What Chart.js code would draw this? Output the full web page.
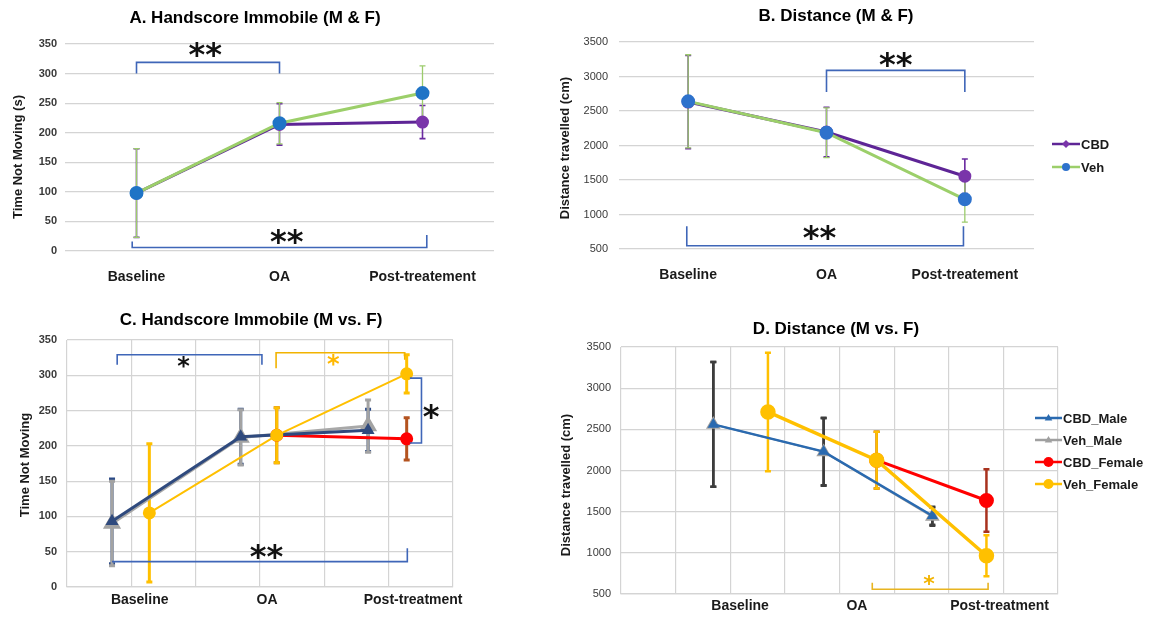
<!DOCTYPE html>
<html>
<head>
<meta charset="utf-8">
<script src="https://cdn.jsdelivr.net/npm/chart.js@4.4.1/dist/chart.umd.min.js"></script>
<style>
  body { margin: 0; background: #fff; width: 1158px; height: 617px; position: relative; overflow: hidden; }
  .panel { position: absolute; }
</style>
</head>
<body>
<div class="panel" style="left:0;top:0;width:510px;height:290px"><canvas id="chartA"></canvas></div>
<div class="panel" style="left:530px;top:0;width:580px;height:290px"><canvas id="chartB"></canvas></div>
<div class="panel" style="left:0;top:300px;width:480px;height:317px"><canvas id="chartC"></canvas></div>
<div class="panel" style="left:530px;top:300px;width:628px;height:317px"><canvas id="chartD"></canvas></div>
<script>
// ---- data ----
var timepointsAB = ['Baseline', 'OA', 'Post-treatement'];
var timepointsCD = ['Baseline', 'OA', 'Post-treatment'];

// A. Handscore immobile (s)
var cbdImmobile = [98, 214, 218];
var cbdImmobileErr = [75, 35, 28];
var vehImmobile = [98, 216, 267];
var vehImmobileErr = [75, 35, 46];

// B. Distance (cm)
var cbdDistance = [2630, 2195, 1555];
var cbdDistanceErr = [675, 360, 250];
var vehDistance = [2640, 2185, 1220];
var vehDistanceErr = [675, 360, 330];

// C. Handscore immobile by sex
var maleXC = [0.7, 2.7, 4.68];
var femaleXC = [1.28, 3.26, 5.28];
var labelXC = [1.13, 3.11, 5.38];
var cbdMaleC = [93, 213, 222];
var cbdMaleCErr = [60, 39, 30];
var vehMaleC = [90, 212, 228];
var vehMaleCErr = [60, 39, 37];
var cbdFemaleC = [null, 215, 210];
var cbdFemaleCErr = [null, 39, 30];
var vehFemaleC = [105, 215, 302];
var vehFemaleCErr = [98, 39, 27];

// D. Distance by sex
var maleXD = [1.69, 3.71, 5.7];
var femaleXD = [2.69, 4.68, 6.69];
var labelXD = [2.18, 4.32, 6.93];
var cbdMaleD = [2560, 2230, 1450];
var cbdMaleDErr = [757, 410, 110];
var vehMaleD = [2560, 2226, 1440];
var vehMaleDErr = [757, 410, 110];
var cbdFemaleD = [null, 2125, 1636];
var cbdFemaleDErr = [null, 345, 380];
var vehFemaleD = [2711, 2125, 965];
var vehFemaleDErr = [720, 345, 250];

var FONT = '"Liberation Sans", Arial, sans-serif';
var STAR_FONT = '"DejaVu Sans", sans-serif';
var GRID = '#d4d4d4';

function pts(xs, ys) {
  return xs.map(function(x, i) { return { x: x, y: ys[i] }; });
}

function drawMarker(ctx, style, x, y, r, color) {
  ctx.fillStyle = color;
  ctx.beginPath();
  if (style === 'triangle') {
    ctx.moveTo(x, y - r);
    ctx.lineTo(x + r * 0.95, y + r * 0.6);
    ctx.lineTo(x - r * 0.95, y + r * 0.6);
    ctx.closePath();
  } else if (style === 'rectRot') {
    ctx.moveTo(x, y - r); ctx.lineTo(x + r, y); ctx.lineTo(x, y + r); ctx.lineTo(x - r, y);
    ctx.closePath();
  } else {
    ctx.arc(x, y, r, 0, Math.PI * 2);
  }
  ctx.fill();
}

// error bars, drawn under the lines in dataset index order (last one on top)
var errorBars = {
  id: 'errorBars',
  beforeDatasetsDraw: function(chart) {
    var ctx = chart.ctx, ys = chart.scales.y;
    chart.data.datasets.forEach(function(ds, i) {
      if (!ds.errors) return;
      var meta = chart.getDatasetMeta(i);
      ctx.save();
      ctx.strokeStyle = ds.errorColor;
      ctx.lineWidth = ds.errorWidth || 1.5;
      meta.data.forEach(function(el, j) {
        var raw = ds.data[j];
        var v = (raw && typeof raw === 'object') ? raw.y : raw;
        var e = ds.errors[j];
        if (v == null || e == null) return;
        var top = ys.getPixelForValue(v + e), bot = ys.getPixelForValue(v - e);
        var c = ds.capHalf || 3;
        ctx.beginPath();
        ctx.moveTo(el.x, top); ctx.lineTo(el.x, bot);
        ctx.moveTo(el.x - c, top); ctx.lineTo(el.x + c, top);
        ctx.moveTo(el.x - c, bot); ctx.lineTo(el.x + c, bot);
        ctx.stroke();
      });
      ctx.restore();
    });
  }
};

// titles, brackets, stars and legend
var marks = {
  id: 'marks',
  afterDraw: function(chart, args, o) {
    var ctx = chart.ctx, xs = chart.scales.x, ys = chart.scales.y;
    ctx.save();
    ctx.fillStyle = '#000';
    ctx.textAlign = 'center';
    ctx.textBaseline = 'middle';
    ctx.font = 'bold 17px ' + FONT;
    ctx.fillText(o.title.text, o.title.x, o.title.y);

    ctx.save();
    ctx.translate(o.yTitle.x, o.yTitle.y);
    ctx.rotate(-Math.PI / 2);
    ctx.font = 'bold 13px ' + FONT;
    ctx.fillStyle = '#1a1a1a';
    ctx.fillText(o.yTitle.text, 0, 0);
    ctx.restore();

    (o.brackets || []).forEach(function(b) {
      ctx.strokeStyle = b.color;
      ctx.lineWidth = 1.6;
      ctx.beginPath();
      b.pts.forEach(function(p, k) {
        var px = xs.getPixelForValue(p[0]), py = ys.getPixelForValue(p[1]);
        if (k === 0) ctx.moveTo(px, py); else ctx.lineTo(px, py);
      });
      ctx.stroke();
    });

    (o.stars || []).forEach(function(s) {
      ctx.font = 'bold ' + s.size + 'px ' + STAR_FONT;
      ctx.fillStyle = s.color;
      ctx.textBaseline = 'alphabetic';
      var m = ctx.measureText(s.text);
      var px = xs.getPixelForValue(s.x), py = ys.getPixelForValue(s.y);
      ctx.fillText(s.text, px, py + (m.actualBoundingBoxAscent - m.actualBoundingBoxDescent) / 2);
    });

    if (o.legend) {
      ctx.textAlign = 'left';
      ctx.textBaseline = 'middle';
      ctx.font = 'bold 13px ' + FONT;
      o.legend.items.forEach(function(it, k) {
        var y = o.legend.y + k * o.legend.gap;
        ctx.strokeStyle = it.line;
        ctx.lineWidth = 2.5;
        ctx.beginPath();
        ctx.moveTo(o.legend.x, y); ctx.lineTo(o.legend.x + o.legend.len, y);
        ctx.stroke();
        drawMarker(ctx, it.marker, o.legend.x + o.legend.len / 2, y, it.r, it.markerColor);
        ctx.fillStyle = '#1a1a1a';
        ctx.fillText(it.text, o.legend.x + o.legend.len + 1, y + 1);
      });
    }
    ctx.restore();
  }
};

Chart.register(errorBars, marks);

function yAxis(min, max, step, width, bold, pad) {
  return {
    min: min, max: max,
    afterFit: function(s) { s.width = width; },
    ticks: { stepSize: step, padding: pad, color: '#3a3a3a',
      callback: function(v) { return String(v); },
      font: { family: FONT, size: 11, weight: bold ? 'bold' : 'normal' } },
    grid: { color: GRID, drawTicks: false, lineWidth: 1.2 },
    border: { display: false }
  };
}

function catAxis(height, pad) {
  return {
    offset: true,
    afterFit: function(s) { s.height = height; },
    ticks: { padding: pad, color: '#1a1a1a', font: { family: FONT, size: 14, weight: 'bold' } },
    grid: { display: false },
    border: { display: false }
  };
}

function linAxis(max, labelX, labels, height, pad) {
  return {
    type: 'linear', min: 0, max: max,
    afterFit: function(s) { s.height = height; },
    afterBuildTicks: function(axis) {
      var t = [];
      for (var i = 0; i <= max; i++) t.push(i);
      axis.ticks = t.concat(labelX).sort(function(a, b) { return a - b; })
        .map(function(v) { return { value: v }; });
    },
    ticks: {
      autoSkip: false, maxRotation: 0, padding: pad, color: '#1a1a1a',
      font: { family: FONT, size: 14, weight: 'bold' },
      callback: function(v) { var k = labelX.indexOf(v); return k >= 0 ? labels[k] : ''; }
    },
    grid: {
      drawTicks: false, lineWidth: 1.2,
      color: function(c) { return (c.tick && Number.isInteger(c.tick.value)) ? GRID : 'rgba(0,0,0,0)'; }
    },
    border: { display: true, color: GRID, width: 1.2 }
  };
}

var common = {
  responsive: true, maintainAspectRatio: false, animation: false,
  elements: { line: { tension: 0 } }
};

function opts(pad, scales, marksCfg) {
  return Object.assign({}, common, {
    layout: { padding: pad },
    scales: scales,
    plugins: { legend: { display: false }, tooltip: { enabled: false }, title: { display: false }, marks: marksCfg }
  });
}

// ---- A ----
new Chart(document.getElementById('chartA'), {
  type: 'line',
  data: {
    labels: timepointsAB,
    datasets: [
      { label: 'CBD', data: cbdImmobile, errors: cbdImmobileErr, errorColor: '#6a2aa0', errorWidth: 1.6, capHalf: 3,
        borderColor: '#5e2596', borderWidth: 3, pointBackgroundColor: '#7a35aa', pointBorderColor: '#7a35aa', pointRadius: 5, order: 1 },
      { label: 'Veh', data: vehImmobile, errors: vehImmobileErr, errorColor: '#9ccc6c', errorWidth: 1.3, capHalf: 3,
        borderColor: '#9ccf6a', borderWidth: 3, pointBackgroundColor: '#1f74c6', pointBorderColor: '#1f74c6', pointRadius: 5.5, order: 0 }
    ]
  },
  options: opts({ top: 44, right: 16, left: 0, bottom: 0 },
    { x: catAxis(39, 10), y: yAxis(0, 350, 50, 65, true, 8) },
    { title: { text: 'A. Handscore Immobile (M & F)', x: 255, y: 18 },
      yTitle: { text: 'Time Not Moving (s)', x: 18, y: 157 },
      brackets: [
        { color: '#3f66b8', pts: [[0, 300], [0, 319], [1, 319], [1, 300]] },
        { color: '#3f66b8', pts: [[-0.03, 16], [-0.03, 6], [2.03, 6], [2.03, 27]] }
      ],
      stars: [
        { text: '**', x: 0.48, y: 340, size: 32, color: '#111' },
        { text: '**', x: 1.05, y: 24, size: 32, color: '#111' }
      ] })
});

// ---- B ----
new Chart(document.getElementById('chartB'), {
  type: 'line',
  data: {
    labels: timepointsAB,
    datasets: [
      { label: 'CBD', data: cbdDistance, errors: cbdDistanceErr, errorColor: '#6a2aa0', errorWidth: 1.6, capHalf: 3,
        borderColor: '#5e2596', borderWidth: 3, pointBackgroundColor: '#7a35aa', pointBorderColor: '#7a35aa', pointRadius: 5, order: 1 },
      { label: 'Veh', data: vehDistance, errors: vehDistanceErr, errorColor: '#9ccc6c', errorWidth: 1.3, capHalf: 3,
        borderColor: '#9ccf6a', borderWidth: 3, pointBackgroundColor: '#2e72cc', pointBorderColor: '#2e72cc', pointRadius: 5.5, order: 0 }
    ]
  },
  options: opts({ top: 42, right: 76, left: 0, bottom: 0 },
    { x: catAxis(41, 10), y: yAxis(500, 3500, 500, 89, false, 11) },
    { title: { text: 'B. Distance (M & F)', x: 306, y: 16 },
      yTitle: { text: 'Distance travelled (cm)', x: 35, y: 148 },
      brackets: [
        { color: '#3f66b8', pts: [[1, 2775], [1, 3089], [2, 3089], [2, 2775]] },
        { color: '#3f66b8', pts: [[-0.01, 828], [-0.01, 548], [1.99, 548], [1.99, 828]] }
      ],
      stars: [
        { text: '**', x: 1.5, y: 3244, size: 32, color: '#111' },
        { text: '**', x: 0.95, y: 732, size: 32, color: '#111' }
      ],
      legend: { x: 522, y: 144, gap: 23, len: 28, items: [
        { text: 'CBD', line: '#5e2596', marker: 'rectRot', markerColor: '#7a35aa', r: 4 },
        { text: 'Veh', line: '#9ccf6a', marker: 'circle', markerColor: '#2e72cc', r: 4 }
      ] } })
});

// ---- C ----
new Chart(document.getElementById('chartC'), {
  type: 'line',
  data: {
    datasets: [
      { label: 'CBD_Male', data: pts(maleXC, cbdMaleC), errors: cbdMaleCErr, errorColor: '#2b4a86', errorWidth: 3, capHalf: 3,
        borderColor: '#2f4a7e', borderWidth: 3, pointStyle: 'triangle', pointBackgroundColor: '#2f4a7e', pointBorderColor: '#2f4a7e', pointRadius: 4.5, order: 1 },
      { label: 'Veh_Male', data: pts(maleXC, vehMaleC), errors: vehMaleCErr, errorColor: '#a3a3a3', errorWidth: 3, capHalf: 3,
        borderColor: '#a8a8a8', borderWidth: 3, pointStyle: 'triangle', pointBackgroundColor: '#a3a3a3', pointBorderColor: '#a3a3a3', pointRadius: 7.5, order: 2 },
      { label: 'CBD_Female', data: pts(femaleXC, cbdFemaleC), errors: cbdFemaleCErr, errorColor: '#b4531f', errorWidth: 3, capHalf: 3,
        borderColor: '#ff0000', borderWidth: 3, pointBackgroundColor: '#ff0000', pointBorderColor: '#ff0000', pointRadius: 5, order: 3 },
      { label: 'Veh_Female', data: pts(femaleXC, vehFemaleC), errors: vehFemaleCErr, errorColor: '#ffc000', errorWidth: 3, capHalf: 3,
        borderColor: '#ffc000', borderWidth: 2, pointBackgroundColor: '#ffc000', pointBorderColor: '#ffc000', pointRadius: 5.5, order: 0 }
    ]
  },
  options: opts({ top: 40, right: 27, left: 0, bottom: 0 },
    { x: linAxis(6, labelXC, timepointsCD, 30, 5), y: yAxis(0, 350, 50, 67, true, 10) },
    { title: { text: 'C. Handscore Immobile (M vs. F)', x: 251, y: 20 },
      yTitle: { text: 'Time Not Moving', x: 25, y: 165 },
      brackets: [
        { color: '#3f66b8', pts: [[0.78, 315], [0.78, 329], [3.03, 329], [3.03, 315]] },
        { color: '#f2b300', pts: [[3.25, 310], [3.25, 332], [5.25, 332], [5.25, 322]] },
        { color: '#3f66b8', pts: [[5.33, 296], [5.51, 296], [5.51, 204], [5.33, 204]] },
        { color: '#3f66b8', pts: [[0.7, 36], [5.29, 36], [5.29, 55]] }
      ],
      stars: [
        { text: '*', x: 1.81, y: 319, size: 24, color: '#111' },
        { text: '*', x: 4.14, y: 322, size: 24, color: '#ffb800' },
        { text: '*', x: 5.66, y: 249, size: 32, color: '#111' },
        { text: '**', x: 3.1, y: 50, size: 32, color: '#111' }
      ] })
});

// ---- D ----
new Chart(document.getElementById('chartD'), {
  type: 'line',
  data: {
    datasets: [
      { label: 'CBD_Male', data: pts(maleXD, cbdMaleD), errors: cbdMaleDErr, errorColor: '#3d3d3d', errorWidth: 2.5, capHalf: 3,
        borderColor: '#2a6ab0', borderWidth: 2.5, pointStyle: 'triangle', pointBackgroundColor: '#2a6ab0', pointBorderColor: '#2a6ab0', pointRadius: 4, order: 1 },
      { label: 'Veh_Male', data: pts(maleXD, vehMaleD), errors: vehMaleDErr, errorColor: '#3d3d3d', errorWidth: 2.5, capHalf: 3,
        borderColor: '#a0a0a0', borderWidth: 2, pointStyle: 'triangle', pointBackgroundColor: '#a0a0a0', pointBorderColor: '#a0a0a0', pointRadius: 6.5, order: 2 },
      { label: 'CBD_Female', data: pts(femaleXD, cbdFemaleD), errors: cbdFemaleDErr, errorColor: '#a8321e', errorWidth: 2.5, capHalf: 3,
        borderColor: '#ff0000', borderWidth: 3, pointBackgroundColor: '#ff0000', pointBorderColor: '#ff0000', pointRadius: 6, order: 3 },
      { label: 'Veh_Female', data: pts(femaleXD, vehFemaleD), errors: vehFemaleDErr, errorColor: '#ffc000', errorWidth: 2.5, capHalf: 3,
        borderColor: '#ffc000', borderWidth: 3.5, pointBackgroundColor: '#ffc000', pointBorderColor: '#ffc000', pointRadius: 6, order: 0 }
    ]
  },
  options: opts({ top: 47, right: 100, left: 0, bottom: 0 },
    { x: linAxis(8, labelXD, timepointsCD, 23, 4), y: yAxis(500, 3500, 500, 91, false, 10) },
    { title: { text: 'D. Distance (M vs. F)', x: 306, y: 29 },
      yTitle: { text: 'Distance travelled (cm)', x: 36, y: 185 },
      brackets: [
        { color: '#e8b420', pts: [[4.6, 637], [4.6, 557], [6.72, 557], [6.72, 637]] }
      ],
      stars: [
        { text: '*', x: 5.64, y: 665, size: 22, color: '#f2b300' }
      ],
      legend: { x: 505, y: 118, gap: 22, len: 27, items: [
        { text: 'CBD_Male', line: '#2a6ab0', marker: 'triangle', markerColor: '#2a6ab0', r: 4 },
        { text: 'Veh_Male', line: '#a0a0a0', marker: 'triangle', markerColor: '#a0a0a0', r: 4 },
        { text: 'CBD_Female', line: '#ff0000', marker: 'circle', markerColor: '#ff0000', r: 5 },
        { text: 'Veh_Female', line: '#ffc000', marker: 'circle', markerColor: '#ffc000', r: 5 }
      ] } })
});
</script>
</body>
</html>
